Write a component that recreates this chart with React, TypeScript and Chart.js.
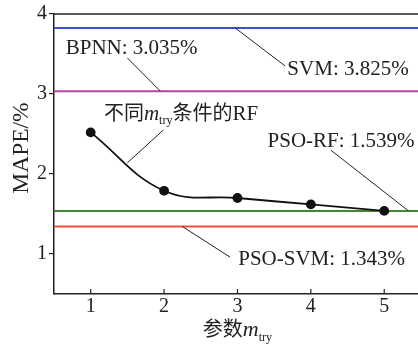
import React, { useEffect, useRef } from 'react';
import { Chart, registerables } from 'chart.js';
Chart.register(...registerables);

// ---- data ----
const mtry = [1, 2, 3, 4, 5];
const rfMape = [2.52, 1.79, 1.7, 1.62, 1.539];
const refNames = ['SVM', 'BPNN', 'PSO-RF', 'PSO-SVM'];
const refValues = [3.825, 3.035, 1.539, 1.343];
const refColors = ['#3b55c8', '#b843a4', '#3f8a30', '#f0503f'];
const xTicks = [1, 2, 3, 4, 5];
const yTicks = [1, 2, 3, 4];
const X_MIN = 0.5;
const X_MAX = 5.46;
const Y_MIN = 0.5;
const Y_MAX = 4;

const SERIF = '"Liberation Serif", "Noto Sans CJK SC", serif';
const INK = '#222';

type Part = { t: string; size: number; italic?: boolean; dy?: number };

// annotation labels: text anchor (left, baseline) and leader line in data coords
const notes: { parts: Part[]; at: [number, number]; from: [number, number]; to: [number, number] }[] = [
  { parts: [{ t: `${refNames[1]}: ${refValues[1].toFixed(3)}%`, size: 21 }], at: [0.66, 3.5], from: [1.5, 3.45], to: [1.95, refValues[1]] },
  { parts: [{ t: `${refNames[0]}: ${refValues[0].toFixed(3)}%`, size: 21 }], at: [3.68, 3.24], from: [2.97, refValues[0]], to: [3.65, 3.35] },
  {
    parts: [
      { t: '不同', size: 20 },
      { t: 'm', size: 21, italic: true },
      { t: 'try', size: 12, dy: 4 },
      { t: '条件的', size: 20 },
      { t: 'RF', size: 21 },
    ],
    at: [1.18, 2.675], from: [1.99, 2.55], to: [1.5, 2.14],
  },
  { parts: [{ t: `${refNames[2]}: ${refValues[2].toFixed(3)}%`, size: 21 }], at: [3.41, 2.34], from: [4.27, 2.3], to: [5.33, refValues[2]] },
  { parts: [{ t: `${refNames[3]}: ${refValues[3].toFixed(3)}%`, size: 21 }], at: [3.01, 0.86], from: [2.25, refValues[3]], to: [2.9, 0.96] },
];

function fontOf(p: Part) {
  return `${p.italic ? 'italic ' : ''}${p.size}px ${SERIF}`;
}
function measure(ctx: CanvasRenderingContext2D, parts: Part[]) {
  let w = 0;
  for (const p of parts) {
    ctx.font = fontOf(p);
    w += ctx.measureText(p.t).width;
  }
  return w;
}
function drawParts(ctx: CanvasRenderingContext2D, parts: Part[], x: number, y: number) {
  let cx = x;
  ctx.textAlign = 'left';
  ctx.textBaseline = 'alphabetic';
  for (const p of parts) {
    ctx.font = fontOf(p);
    ctx.fillText(p.t, cx, y + (p.dy || 0));
    cx += ctx.measureText(p.t).width;
  }
}

const decor = {
  id: 'decor',
  afterDraw(chart: any) {
    const ctx: CanvasRenderingContext2D = chart.ctx;
    const xs = chart.scales.x;
    const ys = chart.scales.y;
    const area = chart.chartArea;
    ctx.save();
    ctx.strokeStyle = INK;
    ctx.fillStyle = INK;
    // top frame
    ctx.lineWidth = 1.5;
    ctx.beginPath();
    ctx.moveTo(area.left, area.top);
    ctx.lineTo(area.right, area.top);
    ctx.stroke();
    // inner x ticks
    ctx.lineWidth = 1.2;
    for (const v of xTicks) {
      const px = xs.getPixelForValue(v);
      ctx.beginPath();
      ctx.moveTo(px, area.bottom);
      ctx.lineTo(px, area.bottom - 5);
      ctx.stroke();
    }
    // annotations
    ctx.lineWidth = 1;
    for (const n of notes) {
      ctx.beginPath();
      ctx.moveTo(xs.getPixelForValue(n.from[0]), ys.getPixelForValue(n.from[1]));
      ctx.lineTo(xs.getPixelForValue(n.to[0]), ys.getPixelForValue(n.to[1]));
      ctx.stroke();
      drawParts(ctx, n.parts, xs.getPixelForValue(n.at[0]), ys.getPixelForValue(n.at[1]));
    }
    // x title
    const xt: Part[] = [
      { t: '参数', size: 20 },
      { t: 'm', size: 22, italic: true },
      { t: 'try', size: 12, dy: 5 },
    ];
    const w = measure(ctx, xt);
    const cx = xs.getPixelForValue(3);
    drawParts(ctx, xt, cx - w / 2, 336);
    // y title
    ctx.translate(22, 148);
    ctx.rotate(-Math.PI / 2);
    ctx.font = `23.5px ${SERIF}`;
    ctx.textAlign = 'center';
    ctx.textBaseline = 'middle';
    ctx.fillText('MAPE/%', 0, 0);
    ctx.restore();
  },
};

export default function App() {
  const ref = useRef<HTMLCanvasElement>(null);
  useEffect(() => {
    if (!ref.current) return;
    const datasets: any[] = [
      {
        label: 'RF',
        data: mtry.map((x, i) => ({ x, y: rfMape[i] })),
        borderColor: '#111',
        backgroundColor: '#111',
        borderWidth: 1.8,
        tension: 0.4,
        pointRadius: 4,
        pointBackgroundColor: '#111',
        pointBorderColor: '#111',
      },
      ...refValues.map((v, i) => ({
        label: refNames[i],
        data: [
          { x: X_MIN, y: v },
          { x: X_MAX, y: v },
        ],
        borderColor: refColors[i],
        borderWidth: 2,
        pointRadius: 0,
        tension: 0,
      })),
    ];
    const chart = new Chart(ref.current, {
      type: 'line',
      data: { datasets },
      options: {
        animation: false,
        responsive: false,
        maintainAspectRatio: false,
        events: [],
        layout: { autoPadding: false, padding: { top: 14, right: 0, left: 0, bottom: 0 } },
        plugins: { legend: { display: false }, tooltip: { enabled: false } },
        scales: {
          x: {
            type: 'linear',
            min: X_MIN,
            max: X_MAX,
            afterBuildTicks: (s: any) => {
              s.ticks = xTicks.map((value) => ({ value }));
            },
            afterFit: (s: any) => {
              s.height = 51;
              s.paddingRight = 0;
              s.paddingLeft = 0;
            },
            grid: { display: false, drawTicks: false },
            border: { display: true, color: INK, width: 1.5 },
            ticks: { color: INK, font: { family: SERIF, size: 20 }, padding: 1, maxRotation: 0, autoSkip: false },
          },
          y: {
            type: 'linear',
            min: Y_MIN,
            max: Y_MAX,
            afterBuildTicks: (s: any) => {
              s.ticks = yTicks.map((value) => ({ value }));
            },
            afterFit: (s: any) => {
              s.width = 54;
              s.paddingTop = 0;
              s.paddingBottom = 0;
            },
            grid: { display: true, drawOnChartArea: false, tickLength: 5, color: INK, lineWidth: 1.2 },
            border: { display: true, color: INK, width: 1.5 },
            ticks: { color: INK, font: { family: SERIF, size: 20 }, padding: 2 },
          },
        },
      },
      plugins: [decor],
    });
    return () => chart.destroy();
  }, []);
  return (
    <div style={{ position: 'fixed', left: 0, top: 0, width: 418, height: 345, background: '#fff' }}>
      <canvas ref={ref} width={418} height={345} style={{ width: 418, height: 345, display: 'block' }} />
    </div>
  );
}
